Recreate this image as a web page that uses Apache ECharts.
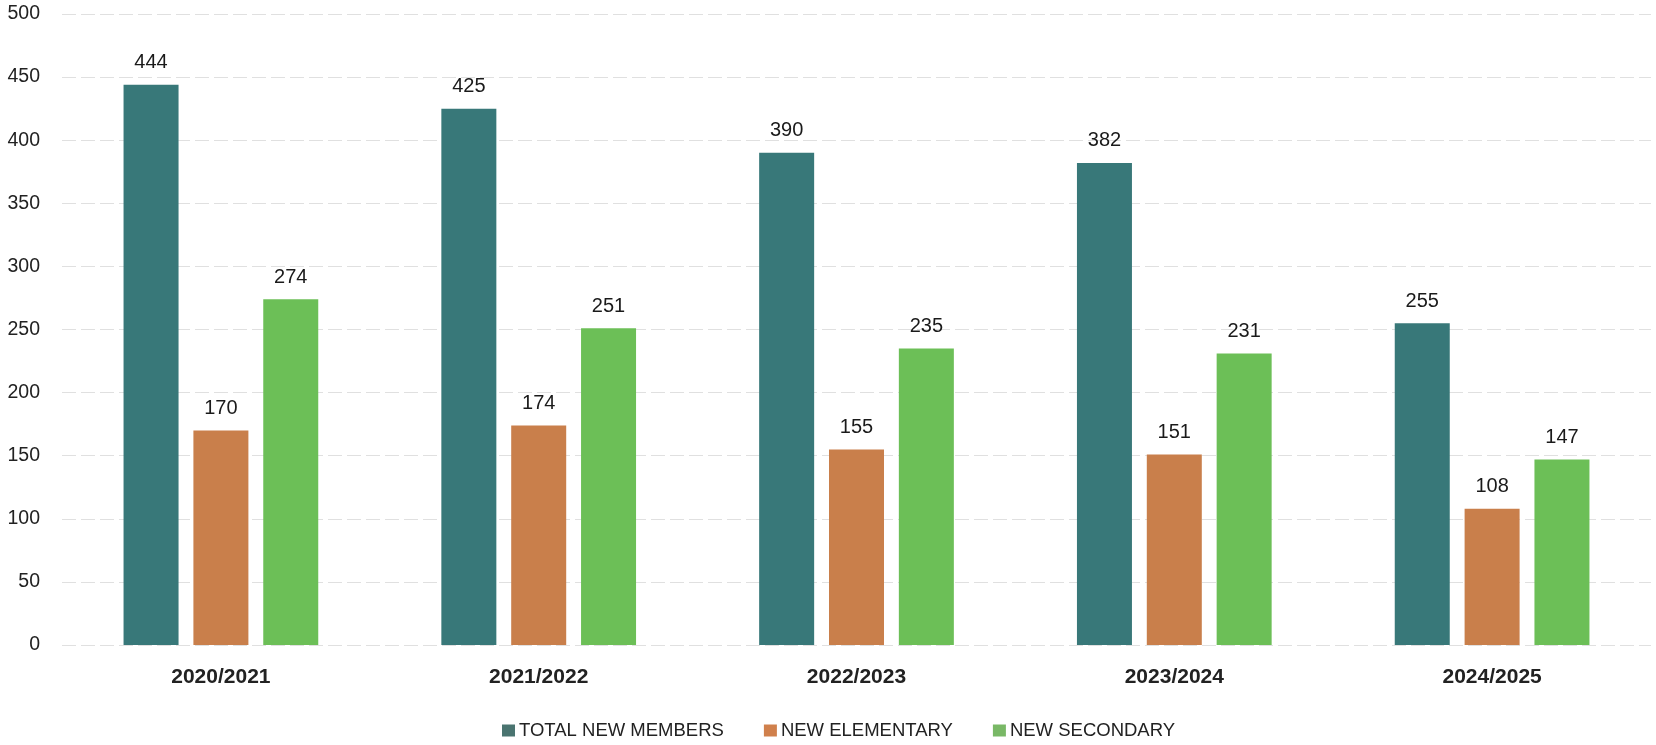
<!DOCTYPE html>
<html><head><meta charset="utf-8">
<script src="https://cdn.jsdelivr.net/npm/echarts@6/dist/echarts.min.js"></script>
<style>html,body{margin:0;padding:0;background:#fff}#c{width:1656px;height:745px}</style>
</head><body><div id="c"></div>
<script>
const categories = ['2020/2021','2021/2022','2022/2023','2023/2024','2024/2025'];
const totalNew = [444, 425, 390, 382, 255];
const newElementary = [170, 174, 155, 151, 108];
const newSecondary = [274, 251, 235, 231, 147];
const seriesNames = ['TOTAL NEW MEMBERS','NEW ELEMENTARY','NEW SECONDARY'];

const chart = echarts.init(document.getElementById('c'));
const lbl = {show:true, position:'top', distance:12, color:'#1a1a1a', fontSize:20, fontFamily:'Liberation Sans, Arial, sans-serif'};
chart.setOption({
  animation:false,
  color:['#387879','#c97f4b','#6cbf57'],
  grid:{left:62, right:5, top:14, bottom:100},
  legend:{
    left:497, top:716, itemWidth:13, itemHeight:12, itemGap:40, icon:'rect',
    textStyle:{fontSize:18.5, color:'#222', padding:[0,0,0,-1], fontFamily:'Liberation Sans, Arial, sans-serif'},
    data:[{name:seriesNames[0], itemStyle:{color:'#4a7470'}},{name:seriesNames[1], itemStyle:{color:'#d0804c'}},{name:seriesNames[2], itemStyle:{color:'#79b866'}}]
  },
  xAxis:{type:'category', data:categories,
    axisLine:{show:false}, axisTick:{show:false},
    axisLabel:{margin:22, fontSize:21, fontWeight:'bold', color:'#222', fontFamily:'Liberation Sans, Arial, sans-serif'}},
  yAxis:{type:'value', min:0, max:500, interval:50,
    axisLine:{show:false}, axisTick:{show:false},
    axisLabel:{margin:22, fontSize:19.5, color:'#222', fontFamily:'Liberation Sans, Arial, sans-serif'},
    splitLine:{lineStyle:{color:'#e0e0e0', type:[14,5], width:1}}},
  series:[
    {name:seriesNames[0], type:'bar', data:totalNew, barWidth:55, barGap:'27%', label:lbl},
    {name:seriesNames[1], type:'bar', data:newElementary, barWidth:55, barGap:'27%', label:lbl},
    {name:seriesNames[2], type:'bar', data:newSecondary, barWidth:55, barGap:'27%', label:lbl}
  ]
});
</script></body></html>
